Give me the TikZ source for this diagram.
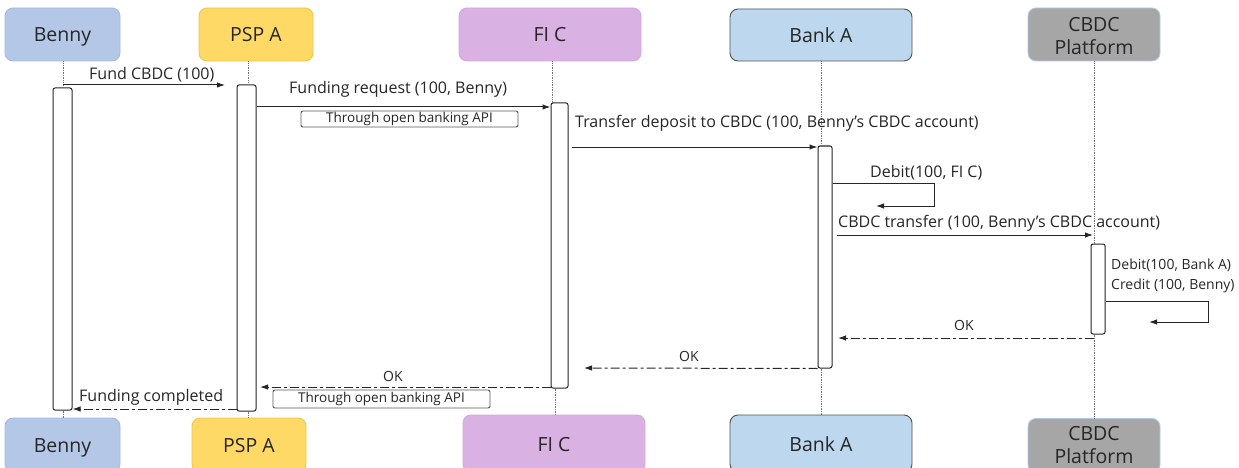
\documentclass[tikz,border=0pt]{standalone}
\usepackage{fontspec}
\setmainfont{Open Sans}
\usetikzlibrary{arrows.meta}
\definecolor{bennyfill}{HTML}{B4C7E7}
\definecolor{bennyline}{HTML}{A5BBE2}
\definecolor{pspfill}{HTML}{FFD966}
\definecolor{pspline}{HTML}{F6C445}
\definecolor{ficfill}{HTML}{D9B1E3}
\definecolor{ficline}{HTML}{D3A8DE}
\definecolor{bankfill}{HTML}{BDD7EE}
\definecolor{bankline}{HTML}{505050}
\definecolor{cbdcfill}{HTML}{A6A6A6}
\definecolor{cbdcline}{HTML}{B4C7E7}
\definecolor{inkgray}{HTML}{262626}

\begin{document}
\begin{tikzpicture}[x=1pt,y=-1pt,
    head/.style={rounded corners=8pt, minimum height=53pt, inner sep=0pt,
      align=center, text=inkgray, line width=0.9pt,
      font=\fontsize{19.5}{23}\selectfont},
    onerow/.style={text height=15pt, text depth=0pt},
    actbar/.style={draw=inkgray, fill=white, rounded corners=2pt,
      inner sep=0pt, line width=1pt},
    msg/.style={draw=inkgray, line width=1pt, -{Latex[length=8pt,width=5.5pt]}},
    reply/.style={msg, dash pattern=on 9pt off 3pt on 3pt off 3pt},
    selfcall/.style={draw=inkgray, line width=1pt,
      -{Latex[length=8pt,width=5.5pt]}},
    lifeline/.style={draw=black!55, densely dotted, line width=0.7pt},
    note/.style={draw=black!65, fill=white, rounded corners=2pt,
      minimum width=217pt, inner sep=0pt, text=inkgray, line width=0.9pt,
      font=\fontsize{13.5}{15}\selectfont},
    msglabel/.style={anchor=base west, inner sep=0pt, text=inkgray,
      font=\fontsize{16}{19}\selectfont},
    smalllabel/.style={msglabel, font=\fontsize{14}{16}\selectfont},
    oklabel/.style={msglabel, font=\fontsize{14}{16}\selectfont}
  ]
  \useasboundingbox (0,0) rectangle (1239,468);

  % actors, top row
  \node[head, onerow, fill=bennyfill, draw=bennyline, minimum width=115pt] (bennyTop) at (62.5,34.5) {Benny};
  \node[head, onerow, fill=pspfill, draw=pspline, minimum width=114pt] (pspTop) at (256,34.5) {PSP A};
  \node[head, onerow, fill=ficfill, draw=ficline, minimum width=182pt] (ficTop) at (550,34.5) {FI C};
  \node[head, onerow, fill=bankfill, draw=bankline, minimum width=182pt, minimum height=52pt] (bankTop) at (821,35) {Bank A};
  \node[head, fill=cbdcfill, draw=cbdcline, minimum width=132pt] (cbdcTop) at (1094,34.5) {\rule{0pt}{18pt}CBDC\\Platform};

  % actors, bottom row
  \node[head, onerow, fill=bennyfill, draw=bennyline, minimum width=115pt, minimum height=54pt] (bennyBot) at (62.5,445) {Benny};
  \node[head, onerow, fill=pspfill, draw=pspline, minimum width=114pt, minimum height=54pt] (pspBot) at (249,445) {PSP A};
  \node[head, onerow, fill=ficfill, draw=ficline, minimum width=182pt, minimum height=57pt] (ficBot) at (554,443.5) {FI C};
  \node[head, onerow, fill=bankfill, draw=bankline, minimum width=182pt, minimum height=57pt] (bankBot) at (821,443.5) {Bank A};
  \node[head, fill=cbdcfill, draw=cbdcline, minimum width=132pt, minimum height=54pt] (cbdcBot) at (1094,445.5) {CBDC\\Platform};

  % lifeline positions
  \coordinate (bennyL) at (63,0);
  \coordinate (pspL) at (248,0);
  \coordinate (ficL) at (552,0);
  \coordinate (ficLow) at (555,0);
  \coordinate (bankL) at (821,0);
  \coordinate (cbdcL) at (1094,0);

  % activation bars
  \node[actbar, minimum width=19pt, minimum height=322pt] (bennyBar) at (62.5,249) {};
  \node[actbar, minimum width=19pt, minimum height=326pt] (pspBar) at (246.5,248) {};
  \node[actbar, minimum width=17pt, minimum height=285pt] (ficBar) at (559.5,245.5) {};
  \node[actbar, minimum width=14pt, minimum height=222pt] (bankBar) at (825,257) {};
  \node[actbar, minimum width=14pt, minimum height=90pt] (cbdcBar) at (1098,289) {};

  % lifelines
  \draw[lifeline] (bennyL |- bennyTop.south) -- (bennyL |- bennyBar.north);
  \draw[lifeline] (bennyL |- bennyBar.south) -- (bennyL |- bennyBot.north);
  \draw[lifeline] (pspL |- pspTop.south) -- (pspL |- pspBar.north);
  \draw[lifeline] (pspL |- pspBar.south) -- (pspL |- pspBot.north);
  \draw[lifeline] (ficL |- ficTop.south) -- (ficL |- ficBar.north);
  \draw[lifeline] (ficLow |- ficBar.south) -- (ficLow |- ficBot.north);
  \draw[lifeline] (bankL |- bankTop.south) -- (bankL |- bankBar.north);
  \draw[lifeline] (bankL |- bankBar.south) -- (bankL |- bankBot.north);
  \draw[lifeline] (cbdcL |- cbdcTop.south) -- (cbdcL |- cbdcBar.north);
  \draw[lifeline] (cbdcL |- cbdcBar.south) -- (cbdcL |- cbdcBot.north);

  % message end points
  \coordinate (fundStart) at (63,85);
  \coordinate (fundEnd) at (225,85);
  \coordinate (reqY) at (0,107);
  \coordinate (xferStart) at (572,147);
  \coordinate (cbdcXferStart) at (837,235);
  \coordinate (cbdcXferEnd) at (1093,235);
  \coordinate (okOneStart) at (1094,338);
  \coordinate (okOneEnd) at (838,338);
  \coordinate (okTwoEnd) at (584,368);
  \coordinate (okThreeEnd) at (260,387);
  \coordinate (doneY) at (0,409);

  % requests
  \draw[msg] (fundStart) -- (fundEnd);
  \draw[msg] (pspBar.east |- reqY) -- (ficBar.west |- reqY);
  \draw[msg] (xferStart) -- (bankBar.west |- xferStart);
  \draw[selfcall] (bankBar.east |- 0,183) -- (934,183) -- (934,206) -- (876,206);
  \draw[msg] (cbdcXferStart) -- (cbdcXferEnd);
  \draw[selfcall] (cbdcBar.east |- 0,301) -- (1208,301) -- (1208,322) -- (1149,322);

  % replies
  \draw[reply] (okOneStart) -- (okOneEnd);
  \draw[reply] (bankBar.south west) -- (okTwoEnd);
  \draw[reply] (ficBar.west |- okThreeEnd) -- (okThreeEnd);
  \draw[reply] (pspBar.west |- doneY) -- (bennyBar.east |- doneY);

  % labels
  \node[msglabel] (fundLbl) at (89,80) {Fund CBDC (100)};
  \node[msglabel] (reqLbl) at (289,94) {Funding request (100, Benny)};
  \node[msglabel] (xferLbl) at (575,128) {Transfer deposit to CBDC (100, Benny’s CBDC account)};
  \node[msglabel] (debitLbl) at (870,177) {Debit(100, FI C)};
  \node[msglabel] (cbdcXferLbl) at (838,227) {CBDC transfer (100, Benny’s CBDC account)};
  \node[smalllabel] (debitBankLbl) at (1111,269) {Debit(100, Bank A)};
  \node[smalllabel] (creditLbl) at (1111,289) {Credit (100, Benny)};
  \node[oklabel] (okOneLbl) at (954,330) {OK};
  \node[oklabel] (okTwoLbl) at (679,361) {OK};
  \node[oklabel] (okThreeLbl) at (383,381) {OK};
  \node[msglabel] (doneLbl) at (79,401) {Funding completed};

  % notes
  \node[note, minimum height=16pt] (apiNoteTop) at (409.5,119) {Through open banking API};
  \node[note, minimum height=18pt] (apiNoteBot) at (381.5,399) {Through open banking API};
\end{tikzpicture}
\end{document}
